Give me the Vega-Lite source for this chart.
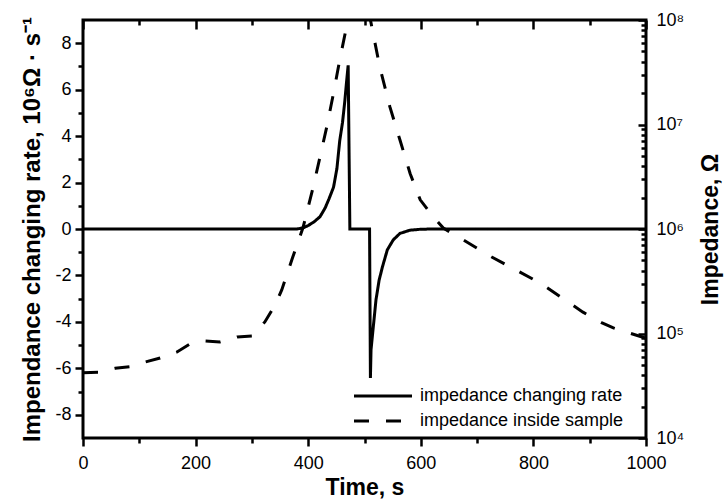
{
  "$schema": "https://vega.github.io/schema/vega-lite/v6.json",
  "width": 563,
  "height": 418,
  "autosize": "none",
  "padding": {"left": 83, "top": 20, "right": 81, "bottom": 63},
  "background": "white",
  "config": {
    "font": "Liberation Sans",
    "view": {"stroke": "black", "strokeWidth": 3},
    "axis": {
      "grid": false,
      "domain": false,
      "ticks": true,
      "tickColor": "black",
      "tickWidth": 2.5,
      "labelColor": "black",
      "labelFontSize": 18,
      "labelFont": "Liberation Sans",
      "titleFont": "Liberation Sans",
      "titleFontSize": 23,
      "titleFontWeight": "bold",
      "titleColor": "black",
      "labelOverlap": false,
      "labelFlush": false
    }
  },
  "datasets": {
    "rate": [
      {"t": 0, "v": 0}, {"t": 380, "v": 0}, {"t": 391, "v": 0.05}, {"t": 400, "v": 0.15},
      {"t": 410, "v": 0.3}, {"t": 421, "v": 0.53}, {"t": 430, "v": 0.9}, {"t": 437, "v": 1.3},
      {"t": 445, "v": 1.8}, {"t": 451, "v": 2.6}, {"t": 456, "v": 3.8}, {"t": 461, "v": 4.6},
      {"t": 465, "v": 5.5}, {"t": 468, "v": 6.3}, {"t": 471, "v": 7.05}, {"t": 474, "v": 0},
      {"t": 509, "v": 0}, {"t": 510.5, "v": -6.42}, {"t": 511.6, "v": -5.2}, {"t": 514.5, "v": -4.49},
      {"t": 520.4, "v": -3.05}, {"t": 526, "v": -2.2}, {"t": 532, "v": -1.62}, {"t": 540.5, "v": -0.9},
      {"t": 551, "v": -0.47}, {"t": 563, "v": -0.19}, {"t": 581, "v": -0.05}, {"t": 600, "v": -0.01},
      {"t": 622, "v": 0}, {"t": 1000, "v": 0}
    ],
    "imp": [
      {"t": 0, "z": 42200}, {"t": 27, "z": 42500}, {"t": 57, "z": 46400}, {"t": 83, "z": 48100},
      {"t": 110, "z": 53300}, {"t": 137, "z": 58300}, {"t": 167, "z": 66500}, {"t": 190, "z": 79400},
      {"t": 217, "z": 84800}, {"t": 243, "z": 83000}, {"t": 274, "z": 92700}, {"t": 300, "z": 94700},
      {"t": 323, "z": 129000}, {"t": 341, "z": 187000}, {"t": 353, "z": 261000}, {"t": 372, "z": 527000},
      {"t": 391, "z": 1040000}, {"t": 409, "z": 2540000}, {"t": 421, "z": 4900000}, {"t": 433, "z": 9500000},
      {"t": 445, "z": 20000000}, {"t": 456, "z": 41400000}, {"t": 468, "z": 86000000}, {"t": 492, "z": 320000000},
      {"t": 513, "z": 86000000}, {"t": 527, "z": 35700000}, {"t": 545, "z": 14800000}, {"t": 563, "z": 7100000},
      {"t": 581, "z": 3400000}, {"t": 599, "z": 1900000}, {"t": 622, "z": 1310000}, {"t": 640, "z": 1020000},
      {"t": 670, "z": 820000}, {"t": 726, "z": 540000}, {"t": 812, "z": 304000}, {"t": 888, "z": 160000},
      {"t": 921, "z": 127000}, {"t": 942, "z": 113000}, {"t": 1000, "z": 90000}
    ]
  },
  "layer": [
    {
      "data": {"name": "rate"},
      "mark": {"type": "point", "opacity": 0},
      "encoding": {
        "x": {
          "field": "t", "type": "quantitative",
          "scale": {"domain": [0, 1000], "nice": false, "zero": false},
          "axis": {"orient": "bottom", "title": null, "labels": false, "values": [100, 300, 500, 700, 900], "tickSize": 5}
        },
        "y": {
          "field": "v", "type": "quantitative",
          "scale": {"domain": [-9, 9], "nice": false, "zero": false},
          "axis": {"orient": "left", "title": null, "labels": false, "values": [-7, -5, -3, -1, 1, 3, 5, 7], "tickSize": 5}
        }
      }
    },
    {
      "data": {"name": "imp"},
      "mark": {"type": "point", "opacity": 0},
      "encoding": {
        "x": {
          "field": "t", "type": "quantitative",
          "scale": {"domain": [0, 1000], "nice": false, "zero": false},
          "axis": {"orient": "top", "title": null, "labels": false, "values": [100, 300, 500, 700, 900], "tickSize": -5}
        },
        "y": {
          "field": "z", "type": "quantitative",
          "scale": {"type": "log", "domain": [10000, 100000000], "nice": false},
          "axis": {
            "orient": "right", "title": null, "labels": false, "tickSize": -5,
            "values": [20000, 30000, 40000, 50000, 60000, 70000, 80000, 90000,
                       200000, 300000, 400000, 500000, 600000, 700000, 800000, 900000,
                       2000000, 3000000, 4000000, 5000000, 6000000, 7000000, 8000000, 9000000,
                       20000000, 30000000, 40000000, 50000000, 60000000, 70000000, 80000000, 90000000]
          }
        }
      }
    },
    {
      "data": {"name": "rate"},
      "mark": {"type": "line", "color": "black", "strokeWidth": 3, "clip": true},
      "encoding": {
        "x": {
          "field": "t", "type": "quantitative",
          "scale": {"domain": [0, 1000], "nice": false, "zero": false},
          "axis": {
            "orient": "bottom",
            "title": "Time, s",
            "values": [0, 200, 400, 600, 800, 1000],
            "labelExpr": "'' + datum.value",
            "tickSize": 8,
            "labelPadding": 8,
            "titlePadding": 4
          }
        },
        "y": {
          "field": "v", "type": "quantitative",
          "scale": {"domain": [-9, 9], "nice": false, "zero": false},
          "axis": {
            "orient": "left",
            "title": "Impendance changing rate, 10⁶Ω · s⁻¹",
            "titleFontSize": 24,
            "values": [-8, -6, -4, -2, 0, 2, 4, 6, 8],
            "labelExpr": "'' + datum.value",
            "tickSize": 8,
            "labelPadding": 4,
            "titlePadding": 10
          }
        },
        "strokeDash": {
          "datum": "impedance changing rate", "type": "nominal",
          "scale": {"domain": ["impedance changing rate", "impedance inside sample"], "range": [[1, 0], [15, 17]]},
          "legend": {
            "title": null,
            "orient": "none",
            "legendX": 291,
            "legendY": 367,
            "padding": 0,
            "symbolType": "M-5.8,0H5.8",
            "symbolSize": 100,
            "symbolStrokeWidth": 3,
            "symbolStrokeColor": "black",
            "labelFontSize": 18,
            "labelColor": "black",
            "labelFont": "Liberation Sans",
            "labelOffset": 28,
            "labelLimit": 0,
            "rowPadding": 7
          }
        }
      }
    },
    {
      "data": {"name": "imp"},
      "mark": {"type": "line", "color": "black", "strokeWidth": 3, "clip": true, "strokeCap": "butt"},
      "encoding": {
        "x": {
          "field": "t", "type": "quantitative",
          "scale": {"domain": [0, 1000], "nice": false, "zero": false},
          "axis": {"orient": "top", "title": null, "labels": false, "values": [0, 200, 400, 600, 800, 1000], "tickSize": -9}
        },
        "y": {
          "field": "z", "type": "quantitative",
          "scale": {"type": "log", "domain": [10000, 100000000], "nice": false},
          "axis": {
            "orient": "right",
            "title": "Impedance, Ω",
            "titleAngle": 270,
            "titleBaseline": "top",
            "titlePadding": 16,
            "values": [10000, 100000, 1000000, 10000000, 100000000],
            "labelExpr": "datum.value == 10000 ? '10⁴' : datum.value == 100000 ? '10⁵' : datum.value == 1000000 ? '10⁶' : datum.value == 10000000 ? '10⁷' : '10⁸'",
            "tickSize": -8,
            "labelPadding": 18
          }
        },
        "strokeDash": {"datum": "impedance inside sample", "type": "nominal"}
      }
    }
  ],
  "resolve": {"scale": {"y": "independent"}, "axis": {"x": "independent"}}
}
